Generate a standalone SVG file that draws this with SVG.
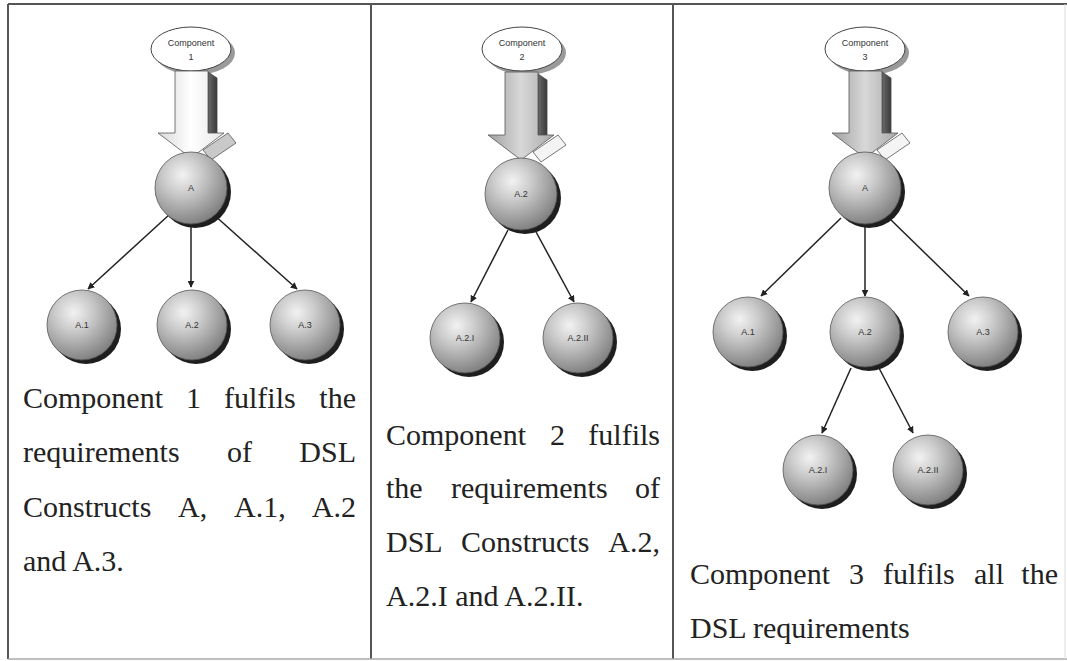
<svg xmlns="http://www.w3.org/2000/svg" width="1067" height="661" viewBox="0 0 1067 661">
<style>
.lbl{font-family:"Liberation Sans",Arial,sans-serif;font-size:9px;fill:#333;text-anchor:middle}
.body{font-family:"Liberation Serif","Times New Roman",serif;font-size:30px;fill:#222}
.end{text-anchor:end}
.edge{stroke:#222;stroke-width:1.5;fill:none;marker-end:url(#ah)}
.grid{stroke:#555;stroke-width:2;fill:none}
.ell{fill:#fff;stroke:#444;stroke-width:1}
.ellsh{fill:#9a9a9a}
.shadow{fill:#1e1e1e}
.ball{fill:url(#sph);stroke:#555;stroke-width:0.8}
.side{fill:url(#sideg);stroke:#444;stroke-width:0.8}
.blk{fill:#c9c9c9;stroke:#555;stroke-width:0.8}
.blk2{fill:#f4f4f4;stroke:#555;stroke-width:0.8}
.face1{fill:url(#light);stroke:#555;stroke-width:0.8}
.face2{fill:url(#dark);stroke:#555;stroke-width:0.8}
</style>
<defs>
<radialGradient id="sph" cx="0.38" cy="0.32" r="0.72">
<stop offset="0" stop-color="#f2f2f2"/>
<stop offset="0.35" stop-color="#cdcdcd"/>
<stop offset="1" stop-color="#7d7d7d"/>
</radialGradient>
<linearGradient id="light" x1="0" y1="0" x2="1" y2="0">
<stop offset="0" stop-color="#d9d9d9"/>
<stop offset="0.5" stop-color="#ffffff"/>
<stop offset="1" stop-color="#e6e6e6"/>
</linearGradient>
<linearGradient id="dark" x1="0" y1="0" x2="1" y2="0">
<stop offset="0" stop-color="#a0a0a0"/>
<stop offset="0.5" stop-color="#d8d8d8"/>
<stop offset="1" stop-color="#a8a8a8"/>
</linearGradient>
<linearGradient id="sideg" x1="0" y1="0" x2="1" y2="0">
<stop offset="0" stop-color="#6a6a6a"/>
<stop offset="1" stop-color="#3a3a3a"/>
</linearGradient>
<marker id="ah" viewBox="0 0 10 10" refX="9" refY="5" markerWidth="7" markerHeight="7" orient="auto" markerUnits="userSpaceOnUse">
<path d="M0,0 L10,5 L0,10 z" fill="#222"/>
</marker>
</defs>
<rect width="1067" height="661" fill="#fff"/>
<g id="table">
<line class="grid" x1="8" y1="4" x2="1067" y2="4"/>
<line class="grid" x1="8" y1="4" x2="8" y2="659"/>
<line class="grid" x1="371" y1="4" x2="371" y2="659"/>
<line class="grid" x1="673" y1="4" x2="673" y2="659"/>
<line x1="8" y1="659" x2="1067" y2="659" stroke="#aaa" stroke-width="1.5"/>
<line x1="1065" y1="4" x2="1065" y2="659" stroke="#ddd" stroke-width="1"/>
</g>
<g id="connectors">
<line class="edge" x1="170" y1="214" x2="88" y2="289"/>
<line class="edge" x1="191" y1="224" x2="191" y2="287"/>
<line class="edge" x1="213" y1="214" x2="297" y2="289"/>
<line class="edge" x1="508" y1="230" x2="471" y2="302"/>
<line class="edge" x1="535" y1="230" x2="574" y2="302"/>
<line class="edge" x1="841" y1="218" x2="761" y2="296"/>
<line class="edge" x1="865" y1="224" x2="865" y2="296"/>
<line class="edge" x1="889" y1="218" x2="969" y2="296"/>
<line class="edge" x1="851" y1="368" x2="822" y2="433"/>
<line class="edge" x1="879" y1="368" x2="913" y2="433"/>
</g>
<g id="comp1">
<ellipse class="ellsh" cx="195" cy="53" rx="40" ry="22"/>
<ellipse class="ell" cx="191" cy="49" rx="40" ry="22"/>
<text class="lbl" x="191" y="46">Component</text>
<text class="lbl" x="191" y="60">1</text>
</g>
<g id="arrow1">
<polygon class="side" points="208,72 217,78 217,136 208,133"/>
<polygon class="blk" points="203,150 228,133 236,143 211,160"/>
<polygon class="face1" points="175,71 208,71 208,133 224,133 191,158 158,133 175,133"/>
</g>
<g id="nA_1">
<circle class="shadow" cx="195" cy="192" r="36"/>
<circle class="ball" cx="191" cy="188" r="36"/>
<text class="lbl" x="191" y="191">A</text>
</g>
<g id="nA1_1">
<circle class="shadow" cx="86" cy="329" r="35"/>
<circle class="ball" cx="82" cy="325" r="35"/>
<text class="lbl" x="82" y="328">A.1</text>
</g>
<g id="nA2_1">
<circle class="shadow" cx="196" cy="329" r="35"/>
<circle class="ball" cx="192" cy="325" r="35"/>
<text class="lbl" x="192" y="328">A.2</text>
</g>
<g id="nA3_1">
<circle class="shadow" cx="309" cy="329" r="35"/>
<circle class="ball" cx="305" cy="325" r="35"/>
<text class="lbl" x="305" y="328">A.3</text>
</g>
<g id="text1">
<text class="body" y="408"><tspan x="23">Component</tspan><tspan x="186">1</tspan><tspan x="224">fulfils</tspan></text>
<text class="body end" x="356" y="408">the</text>
<text class="body" y="462"><tspan x="23">requirements</tspan><tspan x="227">of</tspan></text>
<text class="body end" x="356" y="462">DSL</text>
<text class="body" y="517"><tspan x="23">Constructs</tspan><tspan x="178">A,</tspan><tspan x="234">A.1,</tspan></text>
<text class="body end" x="356" y="517">A.2</text>
<text class="body" x="23" y="571">and A.3.</text>
</g>
<g id="comp2">
<ellipse class="ellsh" cx="526" cy="53" rx="40" ry="22"/>
<ellipse class="ell" cx="522" cy="49" rx="40" ry="22"/>
<text class="lbl" x="522" y="46">Component</text>
<text class="lbl" x="522" y="60">2</text>
</g>
<g id="arrow2">
<polygon class="side" points="538,74 547,80 547,138 538,135"/>
<polygon class="blk2" points="533,152 558,135 566,145 541,162"/>
<polygon class="face2" points="505,72 538,72 538,135 554,135 521,160 488,135 505,135"/>
</g>
<g id="nA2_2">
<circle class="shadow" cx="525" cy="198" r="36"/>
<circle class="ball" cx="521" cy="194" r="36"/>
<text class="lbl" x="521" y="197">A.2</text>
</g>
<g id="nA2I_2">
<circle class="shadow" cx="469" cy="342" r="35"/>
<circle class="ball" cx="465" cy="338" r="35"/>
<text class="lbl" x="465" y="341">A.2.I</text>
</g>
<g id="nA2II_2">
<circle class="shadow" cx="582" cy="342" r="35"/>
<circle class="ball" cx="578" cy="338" r="35"/>
<text class="lbl" x="578" y="341">A.2.II</text>
</g>
<g id="text2">
<text class="body" y="445"><tspan x="386">Component</tspan><tspan x="550">2</tspan></text>
<text class="body end" x="660" y="445">fulfils</text>
<text class="body" y="498"><tspan x="386">the</tspan><tspan x="451">requirements</tspan></text>
<text class="body end" x="660" y="498">of</text>
<text class="body" y="552"><tspan x="386">DSL</tspan><tspan x="461">Constructs</tspan></text>
<text class="body end" x="660" y="552">A.2,</text>
<text class="body" x="386" y="606">A.2.I and A.2.II.</text>
</g>
<g id="comp3">
<ellipse class="ellsh" cx="869" cy="53" rx="40" ry="22"/>
<ellipse class="ell" cx="865" cy="49" rx="40" ry="22"/>
<text class="lbl" x="865" y="46">Component</text>
<text class="lbl" x="865" y="60">3</text>
</g>
<g id="arrow3">
<polygon class="side" points="882,72 891,78 891,136 882,133"/>
<polygon class="blk2" points="877,150 902,133 910,143 885,160"/>
<polygon class="face2" points="849,71 882,71 882,133 898,133 865,158 832,133 849,133"/>
</g>
<g id="nA_3">
<circle class="shadow" cx="869" cy="192" r="36"/>
<circle class="ball" cx="865" cy="188" r="36"/>
<text class="lbl" x="865" y="191">A</text>
</g>
<g id="nA1_3">
<circle class="shadow" cx="752" cy="336" r="35"/>
<circle class="ball" cx="748" cy="332" r="35"/>
<text class="lbl" x="748" y="335">A.1</text>
</g>
<g id="nA2_3">
<circle class="shadow" cx="869" cy="336" r="35"/>
<circle class="ball" cx="865" cy="332" r="35"/>
<text class="lbl" x="865" y="335">A.2</text>
</g>
<g id="nA3_3">
<circle class="shadow" cx="987" cy="336" r="35"/>
<circle class="ball" cx="983" cy="332" r="35"/>
<text class="lbl" x="983" y="335">A.3</text>
</g>
<g id="nA2I_3">
<circle class="shadow" cx="822" cy="474" r="35"/>
<circle class="ball" cx="818" cy="470" r="35"/>
<text class="lbl" x="818" y="473">A.2.I</text>
</g>
<g id="nA2II_3">
<circle class="shadow" cx="932" cy="474" r="35"/>
<circle class="ball" cx="928" cy="470" r="35"/>
<text class="lbl" x="928" y="473">A.2.II</text>
</g>
<g id="text3">
<text class="body" y="584"><tspan x="690">Component</tspan><tspan x="849">3</tspan><tspan x="883">fulfils</tspan><tspan x="974">all</tspan></text>
<text class="body end" x="1058" y="584">the</text>
<text class="body" x="690" y="638">DSL requirements</text>
</g>
</svg>
